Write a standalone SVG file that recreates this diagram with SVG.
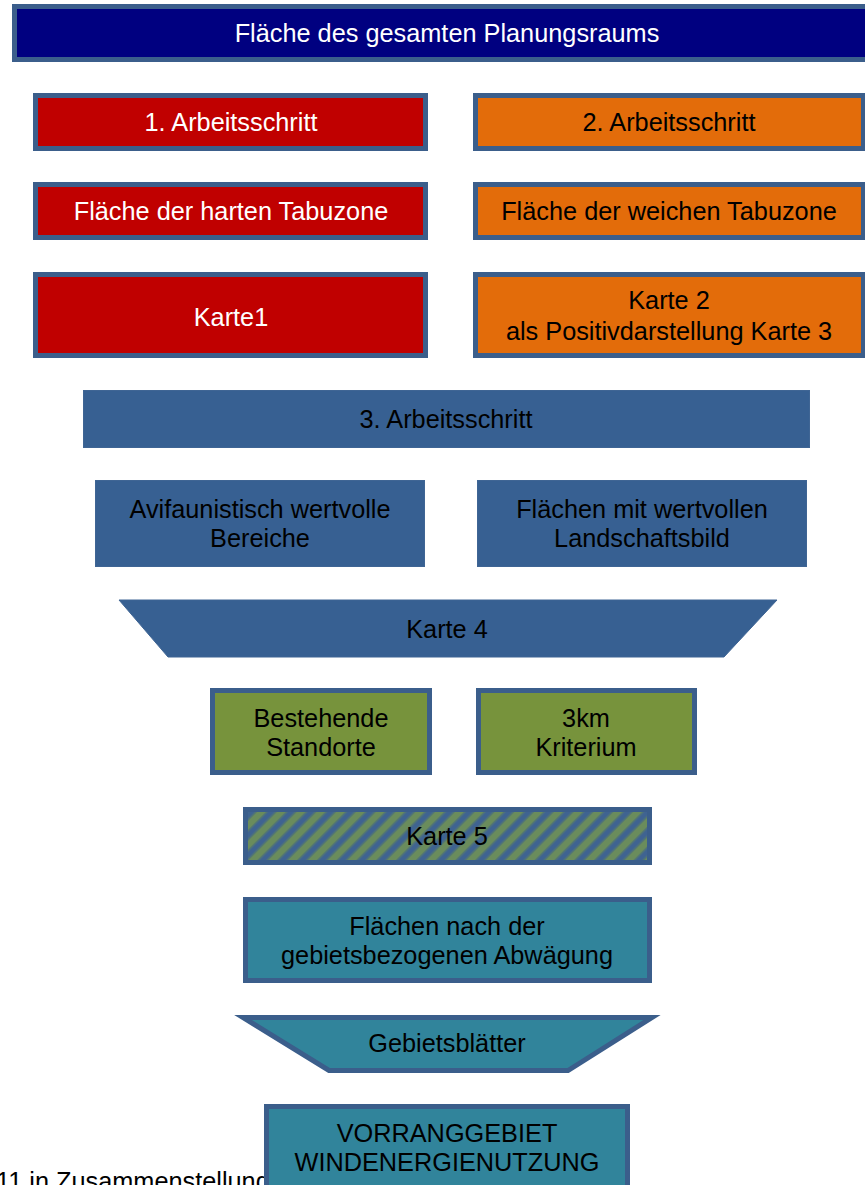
<svg xmlns="http://www.w3.org/2000/svg" width="865" height="1185" viewBox="0 0 865 1185">
<style>
text{font-family:"Liberation Sans",Arial,sans-serif;font-size:25.3px;text-anchor:middle;fill:#000}
.w{fill:#fff}
.bd{stroke:#3b5e8b;stroke-width:5}
.navy{fill:#000080}
.red{fill:#c00000}
.org{fill:#e36c0a}
.blue{fill:#376092;stroke:#3f6594;stroke-width:1}
.grn{fill:#77933c}
.teal{fill:#31849b}
.note{text-anchor:start}
</style>
<defs>
<pattern id="hatch" patternUnits="userSpaceOnUse" width="14" height="14" patternTransform="rotate(45)">
<rect width="14" height="14" fill="#3f6391"/>
<rect width="6" height="14" fill="#6a8c5c"/>
<rect x="6" width="1.5" height="14" fill="#557870"/>
<rect x="12.5" width="1.5" height="14" fill="#557870"/>
</pattern>
</defs>
<rect width="865" height="1185" fill="#fff"/>
<text class="note" x="-4" y="1190">11 in Zusammenstellung</text>
<g id="connectors"/>
<g id="planungsraum">
<rect class="navy bd" x="14.5" y="6.5" width="873" height="53"/>
<text class="w" x="447" y="42">Fläche des gesamten Planungsraums</text>
</g>
<g id="schritt1">
<rect class="red bd" x="35.5" y="95.5" width="390" height="53"/>
<text class="w" x="231" y="131">1. Arbeitsschritt</text>
</g>
<g id="schritt2">
<rect class="org bd" x="475.5" y="95.5" width="388" height="53"/>
<text x="669" y="131">2. Arbeitsschritt</text>
</g>
<g id="hart">
<rect class="red bd" x="35.5" y="184.5" width="390" height="53"/>
<text class="w" x="231" y="220">Fläche der harten Tabuzone</text>
</g>
<g id="weich">
<rect class="org bd" x="475.5" y="184.5" width="388" height="53"/>
<text x="669" y="220">Fläche der weichen Tabuzone</text>
</g>
<g id="karte1">
<rect class="red bd" x="35.5" y="274.5" width="390" height="81"/>
<text class="w" x="231" y="326">Karte1</text>
</g>
<g id="karte2">
<rect class="org bd" x="475.5" y="274.5" width="388" height="81"/>
<text x="669" y="309">Karte 2</text>
<text x="669" y="340">als Positivdarstellung Karte 3</text>
</g>
<g id="schritt3">
<rect class="blue" x="83.5" y="390.5" width="726" height="57"/>
<text x="446" y="428">3. Arbeitsschritt</text>
</g>
<g id="avifauna">
<rect class="blue" x="95.5" y="480.5" width="329" height="86"/>
<text x="260" y="518">Avifaunistisch wertvolle</text>
<text x="260" y="547">Bereiche</text>
</g>
<g id="landschaft">
<rect class="blue" x="477.5" y="480.5" width="329" height="86"/>
<text x="642" y="518">Flächen mit wertvollen</text>
<text x="642" y="547">Landschaftsbild</text>
</g>
<g id="karte4">
<polygon class="blue" points="119,600 777,600 724,657 168,657"/>
<text x="447" y="638">Karte 4</text>
</g>
<g id="standorte">
<rect class="grn bd" x="212.5" y="690.5" width="217" height="82"/>
<text x="321" y="727">Bestehende</text>
<text x="321" y="756">Standorte</text>
</g>
<g id="kriterium">
<rect class="grn bd" x="478.5" y="690.5" width="216" height="82"/>
<text x="586" y="727">3km</text>
<text x="586" y="756">Kriterium</text>
</g>
<g id="karte5">
<rect class="bd" fill="url(#hatch)" x="245.5" y="809.5" width="404" height="53"/>
<text x="447" y="845">Karte 5</text>
</g>
<g id="abwaegung">
<rect class="teal bd" x="245.5" y="899.5" width="404" height="81"/>
<text x="447" y="935">Flächen nach der</text>
<text x="447" y="964">gebietsbezogenen Abwägung</text>
</g>
<g id="gebietsblaetter">
<polygon class="teal bd" points="243,1017.5 652,1017.5 568,1070.5 329,1070.5"/>
<text x="447" y="1052">Gebietsblätter</text>
</g>
<g id="vorranggebiet">
<rect class="teal bd" x="266.5" y="1106.5" width="361" height="90"/>
<text x="447" y="1142">VORRANGGEBIET</text>
<text x="447" y="1171">WINDENERGIENUTZUNG</text>
</g>
</svg>
